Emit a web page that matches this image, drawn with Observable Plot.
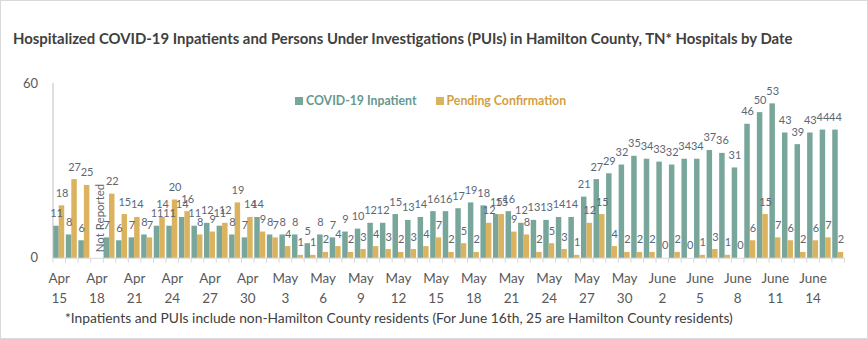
<!DOCTYPE html>
<html>
<head>
<meta charset="utf-8">
<script src="https://cdn.jsdelivr.net/npm/d3@7"></script>
<script src="https://cdn.jsdelivr.net/npm/@observablehq/plot@0.6"></script>
<style>
  body { margin: 0; background: #fff; }
  #wrap { position: relative; width: 866px; height: 337px; border: 1px solid #d9d9d9; background: #fff; font-family: Lato, "Open Sans", sans-serif; overflow: hidden; }
  #title { position: absolute; left: 12px; top: 28px; font-size: 14.9px; font-weight: bold; color: #404040; white-space: nowrap; }
  #chart { position: absolute; left: -1px; top: 59px; }
  #legend { position: absolute; left: 294px; top: 92px; font-size: 12.3px; font-weight: bold; white-space: nowrap; }
  #legend span.item { display: inline-block; margin-right: 19px; }
  #legend span.sw { display: inline-block; width: 8px; height: 8px; margin-right: 3px; vertical-align: 0px; }
  #note { position: absolute; left: 64px; top: 308px; font-size: 13.8px; color: #404040; white-space: nowrap; }
</style>
</head>
<body>
<div id="wrap">
  <div id="title">Hospitalized COVID-19 Inpatients and Persons Under Investigations (PUIs) in Hamilton County, TN* Hospitals by Date</div>
  <div id="chart"></div>
  <div id="legend"></div>
  <div id="note">*Inpatients and PUIs include non-Hamilton County residents (For June 16th, 25 are Hamilton County residents)</div>
</div>
<script>
const dates = [
  "Apr 15","Apr 16","Apr 17","Apr 18","Apr 19","Apr 20","Apr 21","Apr 22","Apr 23","Apr 24",
  "Apr 25","Apr 26","Apr 27","Apr 28","Apr 29","Apr 30",
  "May 1","May 2","May 3","May 4","May 5","May 6","May 7","May 8","May 9","May 10",
  "May 11","May 12","May 13","May 14","May 15","May 16","May 17","May 18","May 19","May 20",
  "May 21","May 22","May 23","May 24","May 25","May 26","May 27","May 28","May 29","May 30","May 31",
  "June 1","June 2","June 3","June 4","June 5","June 6","June 7","June 8","June 9","June 10",
  "June 11","June 12","June 13","June 14","June 15","June 16"
];
const inpatient = [
  11, 8, 6, null, 7, 6, 7, 8, 11, 11,
  14, 11, 12, 11, 8, 7,
  14, 8, 8, 8, 5, 8, 7, 9, 10, 12,
  12, 15, 13, 14, 16, 16, 17, 19, 18, 15,
  16, 12, 13, 13, 14, 14, 21, 27, 29, 32, 35,
  34, 33, 32, 34, 34, 37, 36, 31, 46, 50,
  53, 43, 39, 43, 44, 44
];
const pending = [
  18, 27, 25, null, 22, 15, 14, 7, 14, 20,
  16, 8, 9, 12, 19, 14,
  9, 7, 4, 1, 1, 2, 4, 2, 3, 4,
  3, 2, 3, 4, 7, 2, 5, 2, 12, 15,
  9, 8, 2, 5, 3, 1, 12, 15, 4, 2, 2,
  2, 0, 2, 0, 1, 3, 1, 0, 6, 15,
  7, 6, 2, 6, 7, 2
];
const seriesNames = ["COVID-19 Inpatient", "Pending Confirmation"];
const seriesColors = ["#78a69b", "#dbb25e"];
const legendTextColors = ["#66988d", "#d2a043"];
const notReported = ["Apr 18"];
const tickDates = dates.filter((d, i) => i % 3 === 0);
const yTicks = [0, 60];

const rowsA = dates.map((d, i) => ({date: d, value: inpatient[i]})).filter(r => r.value != null);
const rowsB = dates.map((d, i) => ({date: d, value: pending[i]})).filter(r => r.value != null);

const W = 868, H = 245, mL = 52.5, mR = 23, mT = 23, mB = 47;
const step = (W - mL - mR) / dates.length;
const gap = 0.8, half = step / 2;
const labelOffset = (half - gap) / 2 + gap - half; // center of teal bar relative to band center (negative)
const labelColor = "#5b6775";
const gridColor = "#d9d9d9";

const chart = Plot.plot({
  width: W, height: H,
  marginLeft: mL, marginRight: mR, marginTop: mT, marginBottom: mB,
  style: {fontFamily: "Lato, 'Open Sans', sans-serif", fontSize: "12px", background: "transparent", overflow: "visible"},
  x: {type: "band", domain: dates, padding: 0},
  y: {domain: [0, 60], label: null},
  marks: [
    Plot.ruleY([0], {stroke: gridColor}),
    Plot.ruleX([dates[0]], {y1: 0, y2: 60, dx: -half, stroke: "#bfbfbf"}),
    Plot.ruleX(dates, {y1: 0, y2: 0, insetBottom: -5, dx: -half, stroke: gridColor}),
    Plot.ruleX([dates[dates.length - 1]], {y1: 0, y2: 0, insetBottom: -5, dx: half, stroke: gridColor}),
    Plot.barY(rowsA, {x: "date", y: "value", fill: seriesColors[0], insetLeft: gap, insetRight: half}),
    Plot.barY(rowsB, {x: "date", y: "value", fill: seriesColors[1], insetLeft: half, insetRight: gap}),
    Plot.text(rowsA, {x: "date", y: "value", text: d => String(d.value), dx: labelOffset, dy: -9, lineAnchor: "bottom", fill: labelColor, fontSize: 11}),
    Plot.text(rowsB, {x: "date", y: "value", text: d => String(d.value), dx: -labelOffset, dy: -9, lineAnchor: "bottom", fill: labelColor, fontSize: 11}),
    Plot.text(notReported, {x: d => d, y: 0, text: () => "Not Reported", rotate: -90, textAnchor: "start", dy: -6, dx: 3, fill: labelColor, fontSize: 11.5}),
    Plot.axisX({ticks: tickDates, tickFormat: d => d.split(" ").join("\n"), tickSize: 0, tickPadding: 11, fontSize: 13.5, lineHeight: 1.45, color: "#595959", label: null}),
    Plot.axisY({ticks: yTicks, tickSize: 0, tickPadding: 15, fontSize: 13, color: "#595959", label: null})
  ]
});
document.getElementById("chart").appendChild(chart);

const legend = document.getElementById("legend");
seriesNames.forEach((name, i) => {
  const item = document.createElement("span");
  item.className = "item";
  item.style.color = legendTextColors[i];
  const sw = document.createElement("span");
  sw.className = "sw";
  sw.style.background = seriesColors[i];
  item.appendChild(sw);
  item.appendChild(document.createTextNode(name));
  legend.appendChild(item);
});
</script>
</body>
</html>
